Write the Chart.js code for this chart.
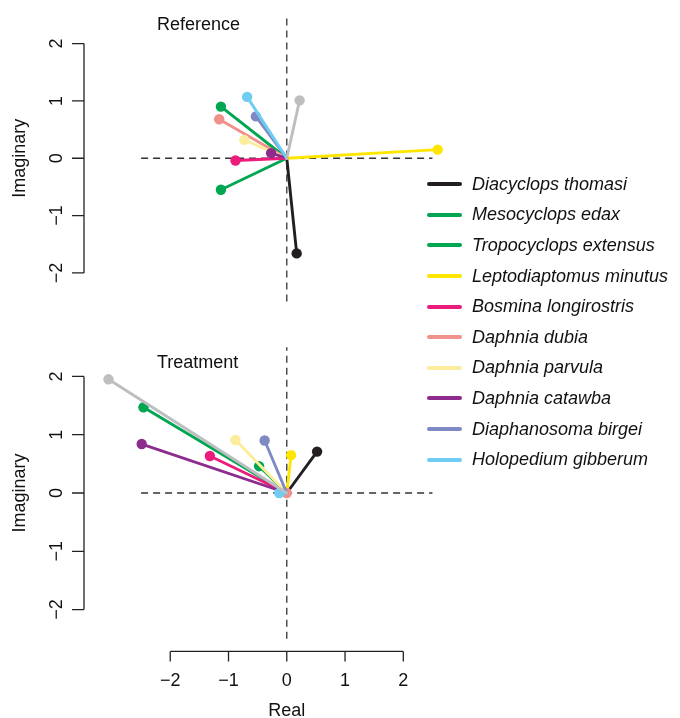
<!DOCTYPE html>
<html>
<head>
<meta charset="utf-8">
<script src="https://cdn.jsdelivr.net/npm/chart.js@4.4.0/dist/chart.umd.min.js"></script>
<style>
  body { margin: 0; background: #fff; width: 680px; height: 718px; overflow: hidden; position: relative;
         font-family: "Liberation Sans", Arial, sans-serif; }
  canvas { position: absolute; left: 0; }
  #legend { position: absolute; left: 427px; top: 169px; }
  .row { height: 30.6px; display: flex; align-items: center; }
  .key { width: 35px; height: 4px; border-radius: 2px; margin-right: 10px; }
  .lab { font-style: italic; font-size: 18px; color: #111; white-space: nowrap; }
</style>
</head>
<body>
<canvas id="top" width="680" height="320" style="top:0"></canvas>
<canvas id="bottom" width="680" height="398" style="top:320px"></canvas>
<div id="legend"></div>
<script>
// species, last one (grey) has no legend entry
const species = ['Diacyclops thomasi', 'Mesocyclops edax', 'Tropocyclops extensus', 'Leptodiaptomus minutus',
  'Bosmina longirostris', 'Daphnia dubia', 'Daphnia parvula', 'Daphnia catawba',
  'Diaphanosoma birgei', 'Holopedium gibberum', ''];
const colours = ['#231f20', '#00a651', '#00a651', '#ffe600', '#ec1c7c', '#f0918b',
  '#fbed9c', '#8e2c8e', '#7f8ac5', '#6dcdf2', '#bcbec0'];

// eigenvector components (real, imaginary)
const refReal = [0.17, -1.13, -1.13, 2.59, -0.88, -1.16, -0.73, -0.27, -0.53, -0.68, 0.22];
const refImag = [-1.66, 0.90, -0.55, 0.15, -0.04, 0.68, 0.32, 0.09, 0.73, 1.07, 1.01];
const trtReal = [0.52, -2.46, -0.475, 0.074, -1.32, 0.0, -0.88, -2.49, -0.38, -0.13, -3.06];
const trtImag = [0.71, 1.47, 0.46, 0.65, 0.635, 0.0, 0.91, 0.84, 0.90, 0.0, 1.95];

const ticks = [-2, -1, 0, 1, 2];
const FONT = '18px "Liberation Sans", Arial, sans-serif';

// axes drawn R style: lines only over tick range
const panelAxes = {
  id: 'panelAxes',
  afterDraw(chart, args, opts) {
    const ctx = chart.ctx, x = chart.scales.x, y = chart.scales.y;
    const left = chart.chartArea.left;
    ctx.save();
    ctx.strokeStyle = '#222';
    ctx.fillStyle = '#111';
    ctx.lineWidth = 1.3;
    ctx.font = FONT;
    ctx.beginPath();
    ctx.moveTo(left, y.getPixelForValue(-2));
    ctx.lineTo(left, y.getPixelForValue(2));
    ticks.forEach(t => {
      const py = y.getPixelForValue(t);
      ctx.moveTo(left, py);
      ctx.lineTo(left - 12, py);
    });
    ctx.stroke();
    ctx.textAlign = 'center';
    ctx.textBaseline = 'middle';
    ticks.forEach(t => {
      ctx.save();
      ctx.translate(left - 27, y.getPixelForValue(t));
      ctx.rotate(-Math.PI / 2);
      ctx.fillText(t < 0 ? '\u2212' + Math.abs(t) : String(t), 0, 0);
      ctx.restore();
    });
    ctx.save();
    ctx.translate(20, y.getPixelForValue(0));
    ctx.rotate(-Math.PI / 2);
    ctx.fillText('Imaginary', 0, 0);
    ctx.restore();
    ctx.textAlign = 'left';
    ctx.fillText(opts.title, 157, opts.titleY);
    if (opts.showX) {
      const by = chart.chartArea.bottom + 1;
      ctx.beginPath();
      ctx.moveTo(x.getPixelForValue(-2), by);
      ctx.lineTo(x.getPixelForValue(2), by);
      ticks.forEach(t => {
        const px = x.getPixelForValue(t);
        ctx.moveTo(px, by);
        ctx.lineTo(px, by + 10);
      });
      ctx.stroke();
      ctx.textAlign = 'center';
      ticks.forEach(t => {
        ctx.fillText(t < 0 ? '\u2212' + Math.abs(t) : String(t), x.getPixelForValue(t), by + 30);
      });
      ctx.fillText('Real', x.getPixelForValue(0), by + 60);
    }
    ctx.restore();
  }
};

function makePanel(canvas, re, im, title, titleY, showX, padTop, padBottom, yMax) {
  const datasets = [
    { data: [{x: -2.5, y: 0}, {x: 2.5, y: 0}] },
    { data: [{x: 0, y: -2.5}, {x: 0, y: 2.5}] }
  ].map(d => Object.assign(d, {
    borderColor: '#333', borderWidth: 1.3, borderDash: [7, 5], pointRadius: 0, order: 100
  }));
  re.forEach((r, i) => {
    datasets.push({
      label: species[i],
      data: [{x: 0, y: 0}, {x: r, y: im[i]}],
      borderColor: colours[i],
      backgroundColor: colours[i],
      borderWidth: 2.9,
      borderCapStyle: 'round',
      pointRadius: [0, 5.2],
      pointBorderWidth: 0,
      pointBackgroundColor: colours[i],
      order: -i
    });
  });
  return new Chart(canvas, {
    type: 'scatter',
    data: { datasets },
    options: {
      responsive: false,
      animation: false,
      showLine: true,
      layout: { padding: { left: 84, right: 219, top: padTop, bottom: padBottom } },
      scales: {
        x: { type: 'linear', min: -3.48, max: 2.99, display: false },
        y: { type: 'linear', min: -2.7, max: yMax, display: false }
      },
      plugins: {
        legend: { display: false },
        tooltip: { enabled: false },
        panelAxes: { title, titleY, showX }
      }
    },
    plugins: [panelAxes]
  });
}

makePanel(document.getElementById('top'), refReal, refImag, 'Reference', 25, false, 0, 7, 2.67);
makePanel(document.getElementById('bottom'), trtReal, trtImag, 'Treatment', 43, true, 15.6, 67.6, 2.7);

const legend = document.getElementById('legend');
species.forEach((s, i) => {
  if (!s) return;
  const row = document.createElement('div');
  row.className = 'row';
  row.innerHTML = '<div class="key" style="background:' + colours[i] + '"></div><span class="lab">' + s + '</span>';
  legend.appendChild(row);
});
</script>
</body>
</html>
